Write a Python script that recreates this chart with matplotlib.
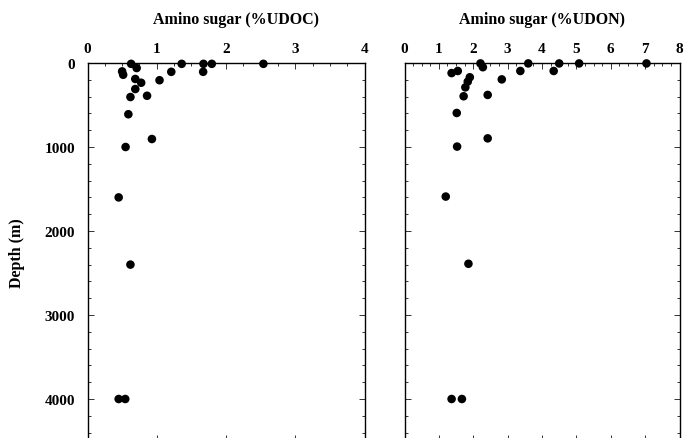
import matplotlib
matplotlib.use("Agg")
import matplotlib.pyplot as plt
from matplotlib.ticker import MultipleLocator

# Left panel: Amino sugar (%UDOC)
udoc_vals = [0.63, 1.36, 1.675, 1.795, 2.54, 0.71, 0.50, 1.21, 1.67, 0.515,
             0.69, 1.04, 0.775, 0.69, 0.86, 0.62, 0.59, 0.93, 0.55, 0.45,
             0.62, 0.45, 0.545]
udoc_depth = [10, 10, 10, 10, 10, 60, 100, 105, 105, 140,
              190, 205, 235, 310, 390, 405, 610, 905, 1000, 1600,
              2400, 4000, 4000]

# Right panel: Amino sugar (%UDON)
udon_vals = [2.21, 3.60, 4.50, 5.08, 7.04, 2.28, 1.55, 3.37, 4.34, 1.37,
             1.90, 2.83, 1.84, 1.77, 2.42, 1.72, 1.52, 2.42, 1.53, 1.20,
             1.86, 1.37, 1.67]
udon_depth = [5, 5, 5, 5, 5, 50, 95, 95, 95, 120,
              170, 195, 222, 290, 380, 396, 595, 897, 995, 1590,
              2390, 4000, 4000]

left_xticks = [0, 1, 2, 3, 4]
right_xticks = [0, 1, 2, 3, 4, 5, 6, 7, 8]
depth_ticks = [0, 1000, 2000, 3000, 4000]

plt.rcParams['font.family'] = ['Liberation Serif', 'DejaVu Serif']
plt.rcParams['font.weight'] = 'bold'

W, H = 684, 439
fig = plt.figure(figsize=(W / 100, H / 100), dpi=100)

top_px = 64
bot_px = 442
def axrect(x0, x1):
    return [x0 / W, 1 - bot_px / H, (x1 - x0) / W, (bot_px - top_px) / H]

ax1 = fig.add_axes(axrect(87.5, 364.5))
ax2 = fig.add_axes(axrect(404.5, 679.5))

panels = [
    (ax1, udoc_vals, udoc_depth, left_xticks, 'Amino sugar (%UDOC)', 236),
    (ax2, udon_vals, udon_depth, right_xticks, 'Amino sugar (%UDON)', 542),
]

for ax, vals, depth, xt, title, tx in panels:
    ax.scatter(vals, depth, s=38, color='black', zorder=3, clip_on=False,
               edgecolors='none')
    ax.set_xlim(xt[0], xt[-1])
    ax.set_ylim(4500, 0)
    ax.xaxis.tick_top()
    ax.set_xticks(xt)
    ax.set_xticklabels([str(v) for v in xt])
    ax.xaxis.set_minor_locator(MultipleLocator(0.25))
    ax.set_yticks(depth_ticks)
    ax.yaxis.set_minor_locator(MultipleLocator(200))
    ax.tick_params(which='both', direction='in', top=True, bottom=True,
                   left=True, right=True, width=0.7, color='#333333')
    ax.tick_params(which='major', length=4, labelsize=11, pad=6)
    ax.tick_params(which='minor', length=2)
    ax.tick_params(axis='y', which='major', pad=9)
    for sp in ax.spines.values():
        sp.set_linewidth(1.0)
    fig.text(tx / W, 1 - 20 / H, title, fontsize=11.5, fontweight='bold',
             ha='center', va='center')

ax1.set_yticklabels([str(v) for v in depth_ticks])
ax1.set_ylabel('Depth (m)', fontsize=11.5, fontweight='bold', labelpad=14)
ax2.set_yticklabels([])

fig.savefig('out.png', dpi=100)
